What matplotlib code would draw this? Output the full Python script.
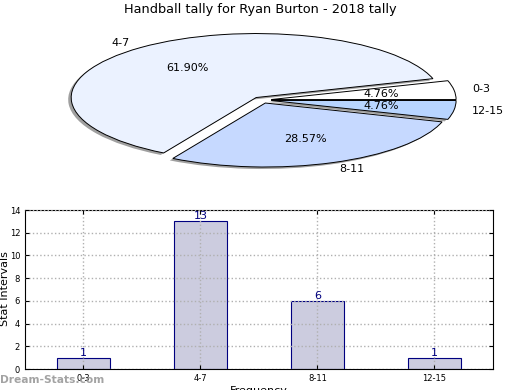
import numpy as np
import matplotlib.pyplot as plt
from matplotlib.patches import Wedge
from matplotlib.transforms import Affine2D

# Datos
intervals = ["0-3", "4-7", "8-11", "12-15"]
counts = [1, 13, 6, 1]
pie_colors = ["#ffffff", "#ebf2ff", "#c6d9ff", "#b8d5ff"]

fig = plt.figure(figsize=(5.2, 3.9), dpi=100)

# Pie (elíptico)
ax1 = fig.add_axes([0.0, 0.5256, 1.0, 0.423])
wedges, texts, autotexts = ax1.pie(counts, labels=intervals, colors=pie_colors,
                                   explode=[0.05] * 4, autopct="%1.2f%%",
                                   shadow=False, startangle=0,
                                   wedgeprops=dict(edgecolor="black", linewidth=0.7),
                                   textprops=dict(fontsize=8))
ax1.set_aspect("auto")
ax1.set_xlim(-1.416, 1.395)
ax1.set_ylim(-1.328, 1.25)
ax1.axis("off")

# sombra a mano (desplazada unos píxeles)
for w in wedges:
    s = Wedge(w.center, w.r, w.theta1, w.theta2, facecolor="#888888",
              edgecolor="none", alpha=0.8, zorder=w.get_zorder() - 0.5,
              transform=ax1.transData + Affine2D().translate(-3, -2))
    ax1.add_patch(s)

fig.text(0.5, 1 - 10 / 390, "Handball tally for Ryan Burton - 2018 tally",
         ha="center", va="center", fontsize=9.3)

# Barras
ax2 = fig.add_axes([0.048, 0.0538, 0.9, 0.4077])
x = np.arange(len(intervals))
ax2.bar(x, counts, width=0.45, color="#ccccdf", edgecolor="navy", linewidth=0.8, zorder=2)
for xi, c in zip(x, counts):
    ax2.text(xi, c, str(c), ha="center", va="bottom", color="navy", fontsize=8)
ax2.set_xlim(-0.5, 3.5)
ax2.set_ylim(0, 14)
ax2.set_yticks(range(0, 15, 2))
ax2.set_xticks(x)
ax2.set_xticklabels(intervals)
ax2.tick_params(labelsize=6, direction="in", top=True, right=True, length=3)
ax2.grid(True, linestyle=":", color="#b0b0b0", linewidth=1)
ax2.set_axisbelow(False)
ax2.set_xlabel("Frequency", fontsize=8, labelpad=2)
fig.text(5 / 520, (390 - 289) / 390, "Stat Intervals", rotation=90,
         ha="center", va="center", fontsize=8)

fig.text(0.0, 10 / 390, "Dream-Stats.com", color="#999999", fontsize=7.7,
         fontweight="bold", ha="left", va="center", alpha=0.9)

fig.savefig("out.png", dpi=100)
